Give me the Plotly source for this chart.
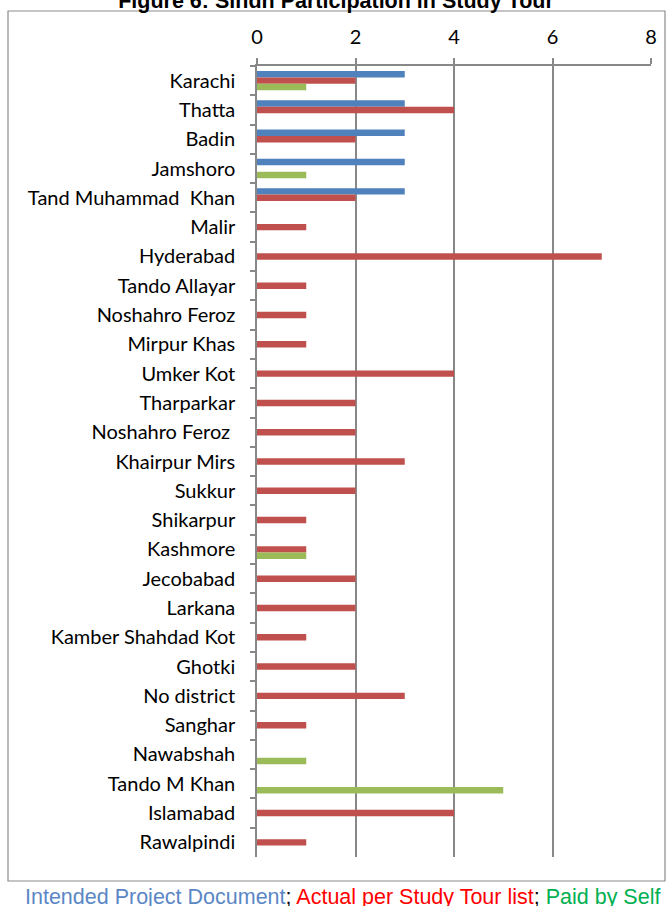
import plotly.graph_objects as go

categories = ["Karachi", "Thatta", "Badin", "Jamshoro", "Tand Muhammad  Khan", "Malir",
              "Hyderabad", "Tando Allayar", "Noshahro Feroz", "Mirpur Khas", "Umker Kot",
              "Tharparkar", "Noshahro Feroz ", "Khairpur Mirs", "Sukkur", "Shikarpur",
              "Kashmore", "Jecobabad", "Larkana", "Kamber Shahdad Kot", "Ghotki",
              "No district", "Sanghar", "Nawabshah", "Tando M Khan", "Islamabad", "Rawalpindi"]
intended = [3, 3, 3, 3, 3, 0, 0, 0, 0, 0, 0, 0, 0, 0, 0, 0, 0, 0, 0, 0, 0, 0, 0, 0, 0, 0, 0]
actual = [2, 4, 2, 0, 2, 1, 7, 1, 1, 1, 4, 2, 2, 3, 2, 1, 1, 2, 2, 1, 2, 3, 1, 0, 0, 4, 1]
paid_self = [1, 0, 0, 1, 0, 0, 0, 0, 0, 0, 0, 0, 0, 0, 0, 0, 1, 0, 0, 0, 0, 0, 0, 1, 5, 0, 0]
x_ticks = [0, 2, 4, 6, 8]

series = [("Intended Project Document", intended, "#4F81BD"),
          ("Actual per Study Tour list", actual, "#C0504D"),
          ("Paid by Self", paid_self, "#9BBB59")]

fig = go.Figure()
for name, vals, col in series:
    fig.add_trace(go.Bar(
        y=categories, x=[v if v else None for v in vals], name=name, orientation="h",
        marker=dict(color=col, line=dict(width=0)),
    ))

W, H = 670, 906
ml, mr, mt, mb = 257, 19, 66, 49
pw, ph = W - ml - mr, H - mt - mb

def px_x(p):
    return (p - ml) / pw

def px_y(p):
    return (H - mb - p) / ph

fig.add_shape(type="rect", xref="paper", yref="paper",
              x0=px_x(8), x1=px_x(665), y0=px_y(881), y1=px_y(11),
              line=dict(color="#8c8c8c", width=1.2), fillcolor="rgba(0,0,0,0)", layer="below")

fig.add_annotation(
    xref="paper", yref="paper", x=px_x(342), y=px_y(897), xanchor="center", yanchor="middle",
    showarrow=False,
    text=("<span style='color:#5B87C5'>Intended Project Document</span>"
          "<span style='color:#000000'>; </span>"
          "<span style='color:#FF0000'>Actual per Study Tour list</span>"
          "<span style='color:#000000'>; </span>"
          "<span style='color:#00B050'>Paid by Self</span>"),
    font=dict(family="Liberation Sans, Arial", size=21.5),
)

fig.update_layout(
    width=W, height=H,
    margin=dict(l=ml, r=mr, t=mt, b=mb),
    paper_bgcolor="white", plot_bgcolor="white",
    barmode="group", bargap=0.34, bargroupgap=0,
    showlegend=False,
    title=dict(text="<b>Figure 6: Sindh Participation in Study Tour</b>",
               x=336 / W, xanchor="center",
               y=1.0, yref="container", yanchor="middle",
               font=dict(family="Liberation Sans, Arial", size=21.5, color="black")),
    font=dict(family="Lato", size=20, color="black"),
)
fig.update_xaxes(
    side="top", range=[0, 8], tickvals=x_ticks, ticktext=[str(v) for v in x_ticks],
    showgrid=True, gridcolor="#888888", gridwidth=1.5,
    showline=True, linecolor="#888888", linewidth=1.5,
    ticks="outside", ticklen=6, tickcolor="#888888", tickwidth=1.5,
    zeroline=False, ticklabelstandoff=6,
    tickfont=dict(family="Lato", size=20),
)
fig.update_yaxes(
    type="category", autorange="reversed",
    showline=True, linecolor="#888888", linewidth=1.5,
    ticks="outside", tickson="boundaries", ticklen=5, tickcolor="#888888", tickwidth=1.5,
    showgrid=False, ticklabelstandoff=16,
    tickfont=dict(family="Lato", size=20),
)

fig.write_html("out.html", config={"displayModeBar": False},
               post_script="document.body.style.margin='0';document.body.style.overflow='hidden';")
